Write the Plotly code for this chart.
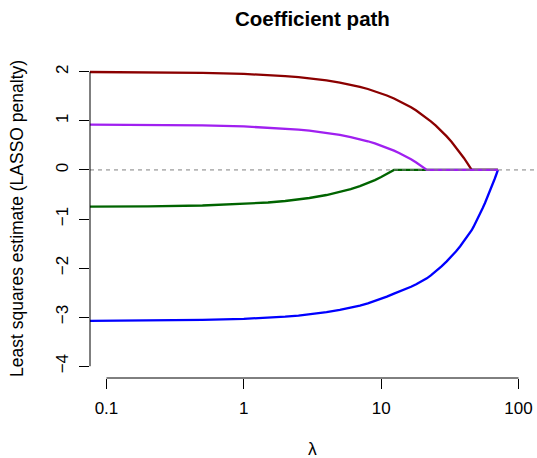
import plotly.graph_objects as go

# lambda grid (x) and coefficient values
lam = [0.05, 0.1, 0.2, 0.5, 1, 1.5, 2, 2.5, 3, 4, 5, 6, 7, 8, 9, 10, 11, 12.4,
       13.5, 15, 16.5, 18, 19.5, 21.5, 23, 25, 27.5, 30, 32.5, 35, 37.5, 40, 42.5,
       45.6, 47, 49, 51, 53, 55, 57, 59, 61, 63, 65, 67, 69, 70.8]

coef_darkred = [2.000, 1.996, 1.991, 1.978, 1.956, 1.934, 1.912, 1.890, 1.868, 1.824,
                1.781, 1.737, 1.693, 1.649, 1.605, 1.561, 1.517, 1.456,
                1.407, 1.342, 1.276, 1.210, 1.144, 1.056, 0.990, 0.903, 0.793, 0.683,
                0.573, 0.464, 0.354, 0.244, 0.134,
                0, 0, 0, 0, 0, 0, 0, 0, 0, 0, 0, 0, 0, 0]

coef_purple = [0.928, 0.926, 0.921, 0.908, 0.887, 0.865, 0.843, 0.822, 0.800, 0.757,
               0.714, 0.670, 0.627, 0.584, 0.541, 0.497, 0.454, 0.394,
               0.346, 0.281, 0.216, 0.151, 0.086, 0, 0, 0, 0, 0,
               0, 0, 0, 0, 0,
               0, 0, 0, 0, 0, 0, 0, 0, 0, 0, 0, 0, 0, 0]

coef_green = [-0.752, -0.749, -0.743, -0.725, -0.694, -0.664, -0.633, -0.603, -0.572, -0.511,
              -0.450, -0.390, -0.329, -0.268, -0.207, -0.146, -0.085, 0,
              0, 0, 0, 0, 0, 0, 0, 0, 0, 0,
              0, 0, 0, 0, 0,
              0, 0, 0, 0, 0, 0, 0, 0, 0, 0, 0, 0, 0, 0]

coef_blue = [-3.078, -3.075, -3.071, -3.057, -3.035, -3.012, -2.990, -2.967, -2.945, -2.899,
             -2.854, -2.809, -2.764, -2.719, -2.674, -2.628, -2.583, -2.520,
             -2.482, -2.431, -2.380, -2.329, -2.277, -2.210, -2.149, -2.068, -1.966, -1.864,
             -1.763, -1.661, -1.559, -1.458, -1.356,
             -1.229, -1.161, -1.063, -0.966, -0.868, -0.771, -0.673, -0.576, -0.478,
             -0.380, -0.283, -0.185, -0.088, 0]

x_ticks = [0.1, 1, 10, 100]
x_ticklabels = ["0.1", "1", "10", "100"]
y_ticks = [-4, -3, -2, -1, 0, 1, 2]
y_ticklabels = ["\u22124", "\u22123", "\u22122", "\u22121", "0", "1", "2"]

FONT = "Liberation Sans, Arial, Helvetica, sans-serif"
LW = 2.3

fig = go.Figure()
for vals, col in [(coef_blue, "#0000FF"), (coef_darkred, "#8B0000"),
                  (coef_green, "#006400"), (coef_purple, "#A020F0")]:
    fig.add_trace(go.Scatter(x=lam, y=vals, mode="lines",
                             line=dict(color=col, width=LW),
                             showlegend=False, hoverinfo="skip"))

# dashed zero reference line across the plot
fig.add_shape(type="line", xref="paper", x0=0, x1=1, yref="y", y0=0, y1=0,
              line=dict(color="#808080", width=1, dash="4px,4px"), layer="above")

# R-style axis lines spanning only the tick range
fig.add_shape(type="line", xref="x", x0=x_ticks[0], x1=x_ticks[-1], yref="paper", y0=0, y1=0,
              line=dict(color="black", width=1))
fig.add_shape(type="line", xref="paper", x0=0, x1=0, yref="y", y0=y_ticks[0], y1=y_ticks[-1],
              line=dict(color="black", width=1))

fig.update_layout(
    width=537, height=458,
    margin=dict(l=90, r=2, t=60, b=80, autoexpand=False),
    plot_bgcolor="white", paper_bgcolor="white",
    font=dict(family=FONT, size=17, color="black"),
    showlegend=False,
    hovermode=False,
    xaxis=dict(type="log", range=[-1.12, 2.12], showgrid=False, zeroline=False,
               showline=False, ticks="outside", ticklen=10, tickwidth=1, tickcolor="black",
               tickvals=x_ticks, ticktext=x_ticklabels, tickfont=dict(size=17),
               ticklabelstandoff=5, automargin=False),
    yaxis=dict(range=[-4.24, 2.24], showgrid=False, zeroline=False, showline=False,
               ticks="outside", ticklen=10, tickwidth=1, tickcolor="black",
               tickvals=y_ticks, ticktext=y_ticklabels, tickangle=-90,
               tickfont=dict(size=17), ticklabelstandoff=4, automargin=False),
    annotations=[
        dict(text="<b>Coefficient path</b>", xref="paper", yref="paper", x=0.5, y=1,
             yshift=42, xanchor="center", yanchor="middle", showarrow=False,
             font=dict(size=20.5, family=FONT)),
        dict(text="Least squares estimate (LASSO penalty)", xref="paper", yref="paper",
             x=0, y=0.5, xshift=-73, xanchor="center", yanchor="middle", textangle=-90,
             showarrow=False, font=dict(size=17.5, family=FONT)),
        dict(text="\u03bb", xref="paper", yref="paper", x=0.5, y=0, yshift=-71,
             xanchor="center", yanchor="middle", showarrow=False,
             font=dict(size=17.5, family=FONT)),
    ],
)

fig.write_html("out.html", config={"displayModeBar": False, "staticPlot": True},
               post_script="document.body.style.margin='0px';"
                           "document.body.style.overflow='hidden';")
